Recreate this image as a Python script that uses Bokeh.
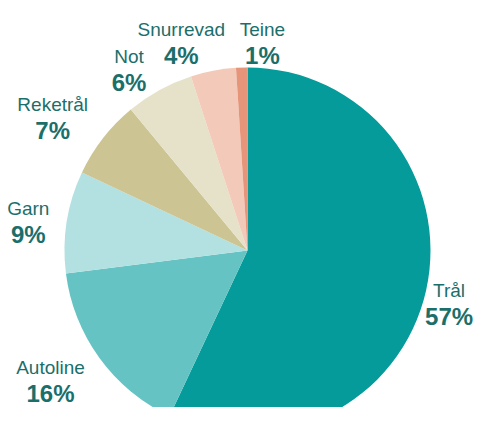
import math
from bokeh.plotting import figure
from bokeh.models import Range1d, ColumnDataSource
from bokeh.core.properties import value
from bokeh.embed import file_html
from bokeh.resources import INLINE

# data
categories = ["Trål", "Autoline", "Garn", "Reketrål", "Not", "Snurrevad", "Teine"]
shares = [57, 16, 9, 7, 6, 4, 1]
pct_labels = ["57%", "16%", "9%", "7%", "6%", "4%", "1%"]

# styles
colors = ["#049b9a", "#66c3c3", "#b3e0e1", "#ccc493", "#e6e2c9", "#f3cab9", "#e6957a"]
text_color = "#1b6f6b"
label_radius = 225
label_dx = [-18, -15, 3, -17, -10, -24, 22]
label_dy = [9, 15, 7, 8, -3, 0, -4]

cx, cy, r = 247, -250, 183

total = sum(shares)
starts, ends, mids = [], [], []
acc = 0.0
for s in shares:
    a0 = math.pi / 2 - 2 * math.pi * acc / total
    acc += s
    a1 = math.pi / 2 - 2 * math.pi * acc / total
    starts.append(a1)
    ends.append(a0)
    mids.append((a0 + a1) / 2)

src = ColumnDataSource(dict(cat=categories, start=starts, end=ends, color=colors))

p = figure(width=474, height=407, output_backend="svg", toolbar_location=None,
           x_range=Range1d(0, 474), y_range=Range1d(-407, 0),
           x_axis_location=None, y_axis_location=None, min_border=0)
p.grid.visible = False
p.outline_line_color = None
p.background_fill_color = "white"
p.border_fill_color = "white"

p.wedge(x=cx, y=cy, radius=r, start_angle="start", end_angle="end",
        direction="anticlock", fill_color="color", line_color=None, source=src)

lx = [cx + label_radius * math.cos(m) + dx for m, dx in zip(mids, label_dx)]
ly = [cy + label_radius * math.sin(m) + dy for m, dy in zip(mids, label_dy)]

p.text(x=lx, y=ly, text=categories, text_align="center", text_baseline="alphabetic",
       text_font=value("Liberation Sans"), text_font_size="19px", text_color=text_color)
p.text(x=lx, y=[y - 26 for y in ly], text=pct_labels, text_align="center",
       text_baseline="alphabetic", text_font=value("Liberation Sans"),
       text_font_size="24px", text_font_style="bold", text_color=text_color)

open("out.html", "w").write(file_html(p, INLINE))
